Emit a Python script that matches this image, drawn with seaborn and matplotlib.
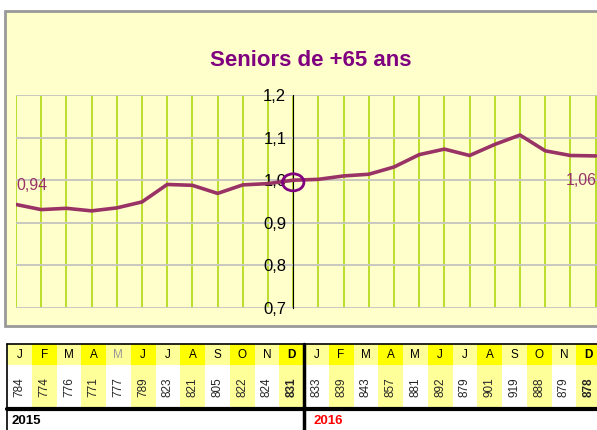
"""
Indice mensuel Seniors de +65 ans (base décembre 2015 = 1,0) avec le tableau des effectifs.
"""
import matplotlib
matplotlib.use("Agg")
import matplotlib.pyplot as plt
from matplotlib.lines import Line2D
from matplotlib.patches import Rectangle, Ellipse
import seaborn as sns

W, H = 597, 430

MONTHS = ["J", "F", "M", "A", "M", "J", "J", "A", "S", "O", "N", "D"]
COUNTS_2015 = [784, 774, 776, 771, 777, 789, 823, 821, 805, 822, 824, 831]
COUNTS_2016 = [833, 839, 843, 857, 881, 892, 879, 901, 919, 888, 879, 878]
INDEX_2015 = [0.943, 0.931, 0.934, 0.928, 0.935, 0.949, 0.990, 0.988, 0.969, 0.989, 0.992, 1.000]
INDEX_2016 = [1.002, 1.010, 1.014, 1.031, 1.060, 1.073, 1.058, 1.084, 1.106, 1.069, 1.058, 1.057]
Y_TICKS = [0.7, 0.8, 0.9, 1.0, 1.1, 1.2]
YEARS = ["2015", "2016"]

PLUM = "#993366"
PURPLE = "#800080"
PALE = "#FFFFCC"
LIGHT_Y = "#FFFF99"
BRIGHT_Y = "#FFFF00"


def fx(px):
    return px / W


def fy(py):
    return 1 - py / H


def fig_line(fig, x0, y0, x1, y1, lw=1.0, color="black"):
    fig.add_artist(Line2D([fx(x0), fx(x1)], [fy(y0), fy(y1)], lw=lw, color=color,
                          transform=fig.transFigure))


def draw_chart(fig):
    # cadre du graphique
    fig.add_artist(Rectangle((fx(5), fy(326)), fx(600) - fx(5), fy(11) - fy(326),
                             transform=fig.transFigure, facecolor=PALE,
                             edgecolor="#999999", lw=2, zorder=0))
    fig.text(fx(311), fy(60), "Seniors de +65 ans", ha="center", va="center",
             fontsize=16, fontweight="bold", color=PURPLE)

    ax = fig.add_axes([fx(16), fy(308), fx(597) - fx(16), fy(95) - fy(308)])
    ax.set_facecolor("none")
    values = INDEX_2015 + INDEX_2016
    x = list(range(len(values)))
    sns.lineplot(x=x, y=values, ax=ax, color=PLUM, lw=2.6, zorder=4)

    ax.set_xlim(0, (597 - 16) / 25.2)
    ax.set_ylim(0.7, 1.2)
    ax.set_xticks(x)
    ax.tick_params(axis="x", length=0, labelbottom=False)
    ax.grid(axis="x", color="#A8D400", lw=1.1)
    ax.grid(axis="y", color="#C8C8C0", lw=1.4)
    ax.set_axisbelow(True)

    for s in ["top", "right", "bottom"]:
        ax.spines[s].set_visible(False)
    ax.spines["left"].set_position(("data", 11))
    ax.spines["left"].set_color("black")
    ax.spines["left"].set_zorder(3)
    ax.set_yticks(Y_TICKS)
    ax.set_yticklabels([f"{v:.1f}".replace(".", ",") for v in Y_TICKS])
    ax.tick_params(axis="y", direction="out", length=4, width=1, labelsize=12,
                   colors="black", pad=1)

    # étiquettes de début / fin
    ax.text(0.03, 0.988, f"{values[0]:.2f}".replace(".", ","), color=PLUM,
            fontsize=11.5, ha="left", va="center")
    ax.text(23.06, 1.0, f"{values[-1]:.2f}".replace(".", ","), color=PLUM,
            fontsize=11.5, ha="right", va="center")
    # repère base 100 (décembre 2015)
    ax.add_patch(Ellipse((11, 0.995), 0.85, 0.04, fill=False, ec=PURPLE, lw=2, zorder=5))


def draw_table(fig):
    ax = fig.add_axes([fx(7), fy(409), fx(601) - fx(7), fy(344) - fy(409)])
    ax.set_xlim(0, 24)
    ax.set_ylim(0, 65)
    ax.axis("off")

    counts = COUNTS_2015 + COUNTS_2016
    letters = MONTHS + MONTHS
    pos = [i + 0.5 for i in range(24)]
    head_cols = [BRIGHT_Y if i % 2 else LIGHT_Y for i in range(24)]
    body_cols = [LIGHT_Y if i % 2 else "white" for i in range(24)]
    ax.bar(pos, 21, bottom=44, width=1, color=head_cols, lw=0)
    ax.bar(pos, 44, bottom=0, width=1, color=body_cols, lw=0)

    for i, (m, c) in enumerate(zip(letters, counts)):
        bold = "bold" if m == "D" and i % 12 == 11 else "normal"
        mcol = "#999999" if i == 4 else "black"
        ax.text(pos[i], 54.5, m, ha="center", va="center", fontsize=8.5,
                fontweight=bold, color=mcol)
        ax.text(pos[i], 22, str(c), ha="center", va="center", rotation=90,
                fontsize=8.5, fontweight=bold)

    # traits du tableau
    fig_line(fig, 7, 344, 601, 344, lw=1.2)
    fig_line(fig, 7, 409, 601, 409, lw=3)
    fig_line(fig, 7, 344, 7, 430, lw=1.2)
    fig_line(fig, 304, 344, 304, 430, lw=2.5)

    fig.text(fx(11), fy(421), YEARS[0], fontsize=9.5, fontweight="bold",
             ha="left", va="center", color="black")
    fig.text(fx(314), fy(421), YEARS[1], fontsize=9.5, fontweight="bold",
             ha="left", va="center", color="#FF0000")


def main():
    sns.set_style("white")
    plt.rcParams["font.family"] = ["Liberation Sans", "DejaVu Sans"]
    fig = plt.figure(figsize=(W / 100, H / 100), dpi=100)
    fig.patch.set_facecolor("white")
    draw_chart(fig)
    draw_table(fig)
    fig.savefig("out.png", dpi=100)
    plt.close(fig)


if __name__ == "__main__":
    main()
